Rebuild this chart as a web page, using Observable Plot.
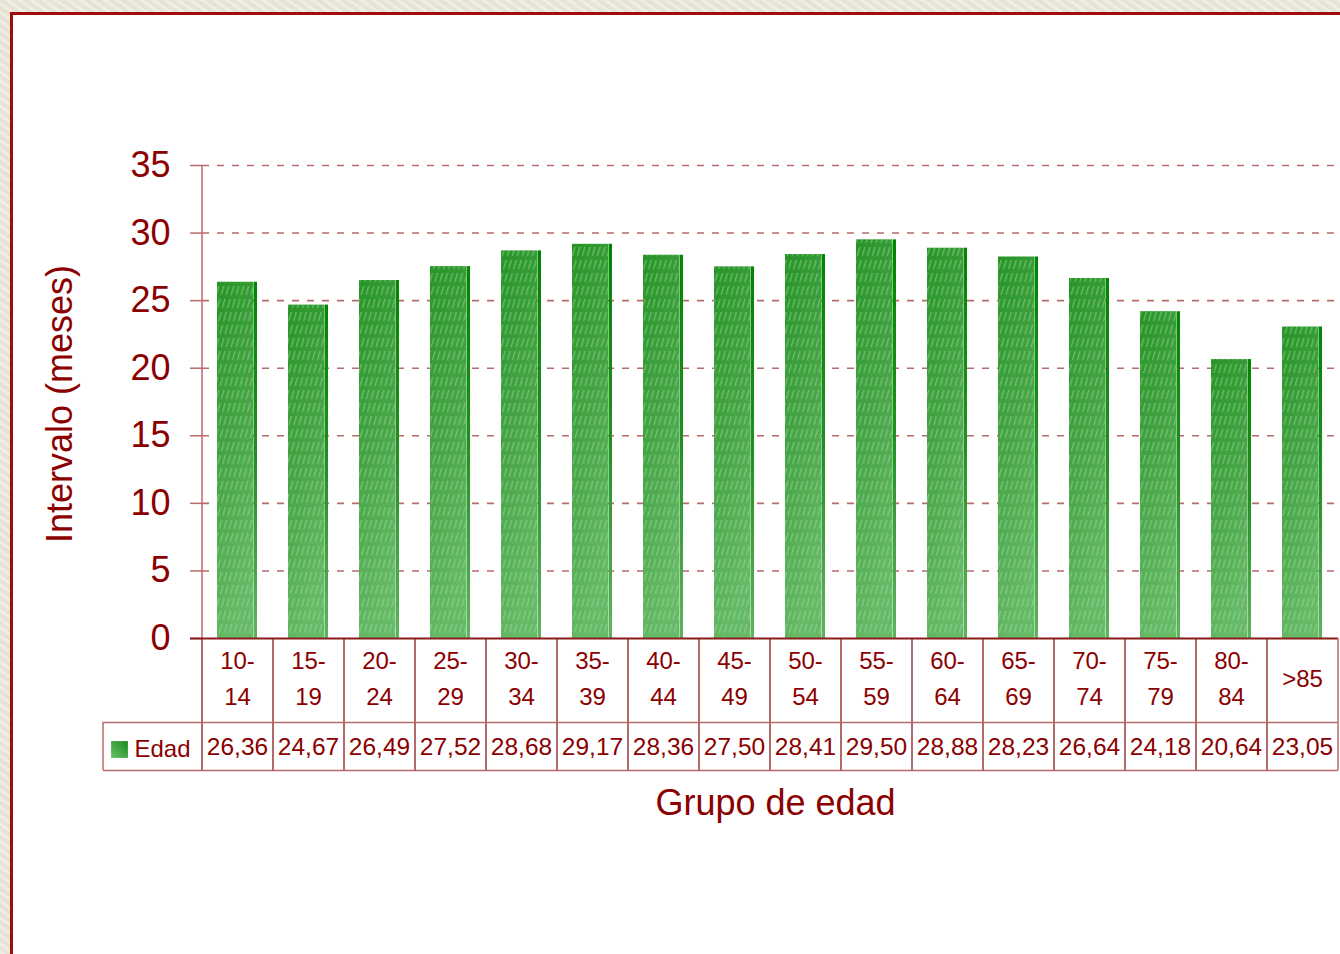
<!DOCTYPE html>
<html>
<head>
<meta charset="utf-8">
<script src="https://cdn.jsdelivr.net/npm/d3@7"></script>
<script src="https://cdn.jsdelivr.net/npm/@observablehq/plot@0.6"></script>
<style>
  html, body { margin: 0; padding: 0; }
  body {
    width: 1340px; height: 954px; overflow: hidden; position: relative;
    background-color: #ebe8da;
    background-image: repeating-linear-gradient(35deg, rgba(255,255,255,0.25) 0 3px, rgba(0,0,0,0.02) 3px 7px);
  }
  #panel {
    position: absolute; left: 10px; top: 12px; width: 1400px; height: 1000px;
    background: #ffffff; border-left: 3px solid #a00d0d; border-top: 3px solid #a00d0d;
  }
  #chart { position: absolute; left: 0; top: 0; }
  #chart g[aria-label^="y-axis"] line,
  #chart g[aria-label="y-axis tick"] path { stroke: #b86b6b; stroke-width: 1.5; }
</style>
</head>
<body>
<svg width="0" height="0" style="position:absolute">
  <defs>
    <linearGradient id="barBody" x1="0" y1="0" x2="0.25" y2="1">
      <stop offset="0" stop-color="#279427"/>
      <stop offset="0.5" stop-color="#45a445"/>
      <stop offset="1" stop-color="#66b966"/>
    </linearGradient>
    <linearGradient id="barStrip" x1="0" y1="0" x2="0" y2="1">
      <stop offset="0" stop-color="#008600"/>
      <stop offset="0.5" stop-color="#1f911f"/>
      <stop offset="1" stop-color="#5fb45f"/>
    </linearGradient>
    <linearGradient id="swatchGrad" x1="0" y1="1" x2="1" y2="0">
      <stop offset="0" stop-color="#6cc06c"/>
      <stop offset="1" stop-color="#1a8a1a"/>
    </linearGradient>
    <pattern id="hatch" width="5" height="13" patternUnits="userSpaceOnUse" patternTransform="skewX(-16)">
      <rect x="0" y="0" width="1.4" height="9" fill="#a8e4a8" opacity="0.45"/>
    </pattern>
  </defs>
</svg>
<div id="panel"></div>
<div id="chart"></div>
<script>
// ---- data ----
const categories = ["10-14","15-19","20-24","25-29","30-34","35-39","40-44","45-49","50-54","55-59","60-64","65-69","70-74","75-79","80-84",">85"];
const categoryLabels = ["10-\n14","15-\n19","20-\n24","25-\n29","30-\n34","35-\n39","40-\n44","45-\n49","50-\n54","55-\n59","60-\n64","65-\n69","70-\n74","75-\n79","80-\n84",">85"];
const edad = [26.36, 24.67, 26.49, 27.52, 28.68, 29.17, 28.36, 27.50, 28.41, 29.50, 28.88, 28.23, 26.64, 24.18, 20.64, 23.05];
const yTicks = [0, 5, 10, 15, 20, 25, 30, 35];
const gridTicks = [5, 10, 15, 20, 25, 30, 35];
const seriesName = "Edad";
const yTitle = "Intervalo (meses)";
const xTitle = "Grupo de edad";

const table = categories.map((c, i) => ({cat: c, label: categoryLabels[i], value: edad[i]}));
const fmt = v => v.toFixed(2).replace(".", ",");

const textColor = "#8b0000";
const gridColor = "#b86b6b";
const tableDark = "#8b1a1a";
const half = 35.5;

const chart = Plot.plot({
  width: 1340,
  height: 954,
  marginLeft: 202,
  marginRight: 2,
  marginTop: 165,
  marginBottom: 316,
  style: {fontFamily: "'Liberation Sans', Arial, sans-serif", fontSize: "36px", color: textColor, background: "transparent", overflow: "visible"},
  x: {domain: categories, paddingInner: 0.43, paddingOuter: 0.215, axis: null},
  y: {domain: [0, 35], ticks: yTicks, tickSize: 12, tickPadding: 20, label: null},
  marks: [
    Plot.ruleY(gridTicks, {stroke: gridColor, strokeWidth: 1.6, strokeDasharray: "7,8", insetRight: -2}),
    Plot.ruleX([categories[0]], {x: d => d, dx: -half, stroke: gridColor, strokeWidth: 1.5}),
    Plot.barY(table, {x: "cat", y: "value", fill: "url(#barBody)", insetRight: 4}),
    Plot.barY(table, {x: "cat", y: "value", fill: "url(#hatch)", insetRight: 4}),
    Plot.barY(table, {x: "cat", y: "value", fill: "url(#barStrip)", insetLeft: 36.5, ariaLabel: "strip"}),
    Plot.ruleY([0], {stroke: tableDark, strokeWidth: 2, insetLeft: -12}),
    // table grid
    Plot.ruleX(categories, {x: d => d, dx: -half, y1: 0, y2: 0, insetBottom: -132, stroke: tableDark, strokeWidth: 1.3}),
    Plot.ruleX([categories[categories.length - 1]], {x: d => d, dx: half, y1: 0, y2: 0, insetBottom: -132, stroke: gridColor, strokeWidth: 1.5}),
    Plot.ruleX([categories[0]], {x: d => d, dx: -half - 99, y1: 0, y2: 0, insetTop: 84, insetBottom: -132, stroke: gridColor, strokeWidth: 1.5}),
    Plot.ruleY([0], {dy: 84, insetLeft: -99, stroke: gridColor, strokeWidth: 1.5}),
    Plot.ruleY([0], {dy: 132, insetLeft: -99, stroke: gridColor, strokeWidth: 1.5}),
    // table text
    Plot.text(table, {x: "cat", text: "label", frameAnchor: "bottom", dy: 37, fontSize: 24, lineHeight: 1.5, lineAnchor: "middle", fill: textColor}),
    Plot.text(table, {x: "cat", text: d => fmt(d.value), frameAnchor: "bottom", dy: 109, fontSize: 24.5, lineAnchor: "middle", fill: textColor}),
    Plot.text([seriesName], {text: d => d, frameAnchor: "bottom-left", dx: -68, dy: 111, textAnchor: "start", fontSize: 24, lineAnchor: "middle", fill: textColor}),
    Plot.dot([seriesName], {frameAnchor: "bottom-left", dx: -83, dy: 111, symbol: "square", r: 9.5, fill: "url(#swatchGrad)"}),
    // titles
    Plot.text([yTitle], {text: d => d, frameAnchor: "left", dx: -142, dy: 2, rotate: -90, textAnchor: "middle", fontSize: 36, lineAnchor: "middle", fill: textColor}),
    Plot.text([xTitle], {text: d => d, frameAnchor: "bottom", dx: 5, dy: 165, textAnchor: "middle", fontSize: 36, lineAnchor: "middle", fill: textColor})
  ]
});

document.getElementById("chart").appendChild(chart);

// chamfer the top of the darker right-hand strip of each bar (from the rects Plot drew)
d3.select(chart).selectAll('g[aria-label="strip"] rect').each(function () {
  const r = d3.select(this);
  const x = +r.attr("x"), y = +r.attr("y"), w = +r.attr("width"), h = +r.attr("height");
  const c = Math.min(26, h);
  d3.select(this.parentNode).append("path")
    .attr("d", `M${x},${y}L${x + w},${y + c}L${x + w},${y + h}L${x},${y + h}Z`)
    .attr("fill", "url(#barStrip)");
  r.remove();
});
</script>
</body>
</html>
